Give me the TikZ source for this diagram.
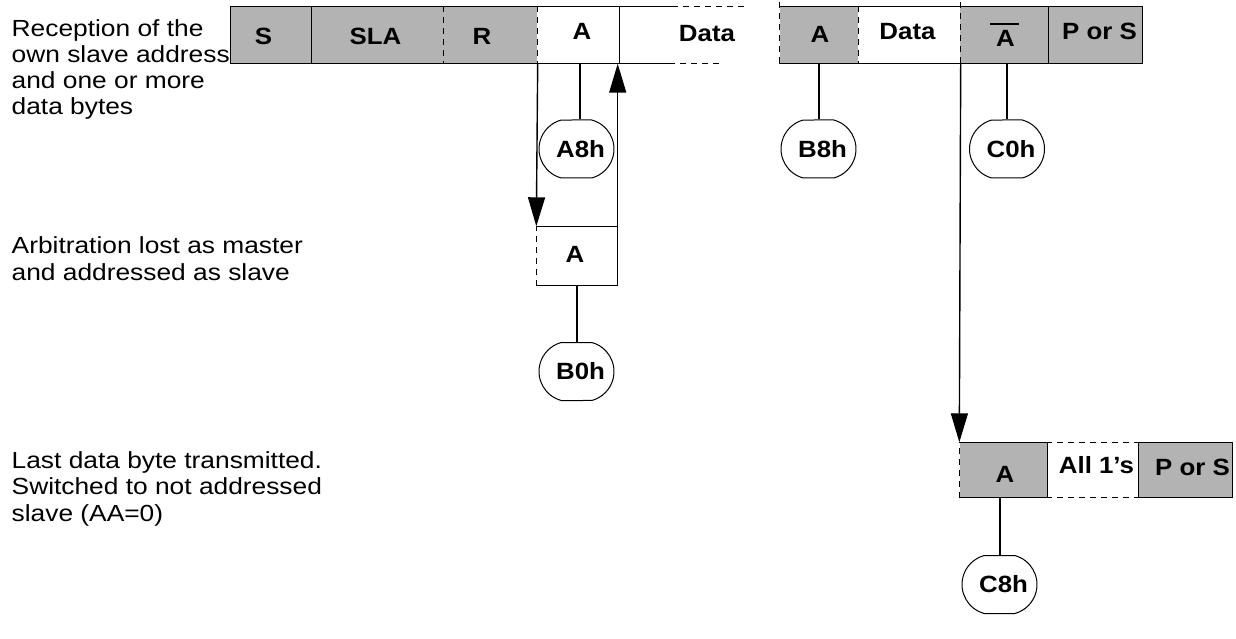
\documentclass[tikz,border=0pt]{standalone}
\usepackage{fontspec}
\setmainfont{Liberation Sans}[FakeStretch=1.1]
\newfontfamily\descfont{Liberation Sans}[FakeStretch=1.13]
\usetikzlibrary{arrows.meta,shapes.misc}
\definecolor{boxgrey}{RGB}{179,179,179}
\begin{document}
\begin{tikzpicture}[x=1pt,y=-1pt,line width=1.4pt,
  cell/.style={rectangle,inner sep=0pt,minimum height=56pt,draw=none},
  greycell/.style={cell,fill=boxgrey},
  txt/.style={font=\fontsize{23.5}{26}\selectfont\bfseries,inner sep=0pt,anchor=base},
  desc/.style={font=\descfont\fontsize{23.3}{26.3}\selectfont,align=left,anchor=base west,inner sep=0pt},
  code/.style={rounded rectangle,rounded rectangle arc length=150,draw,line width=1pt,
    minimum width=75pt,minimum height=58pt,inner sep=0pt,font=\fontsize{23.5}{26}\selectfont\bfseries},
  dsh/.style={dash pattern=on 6pt off 5pt},
  arr/.style={-{Triangle[length=29pt,width=17pt]}}]
\useasboundingbox (0,0) rectangle (1236,639);
% top row cells
\node[greycell,minimum width=80pt]  (bS)   at (271,35)   {};
\node[greycell,minimum width=132pt] (bSLA) at (377,35)   {};
\node[greycell,minimum width=94pt]  (bR)   at (490,35)   {};
\node[cell,minimum width=82pt]      (bA1)  at (578,35)   {};
\node[cell,minimum width=161pt]     (bD1)  at (699.5,35) {};
\node[greycell,minimum width=78pt]  (bA2)  at (819,35)   {};
\node[cell,minimum width=102pt]     (bD2)  at (909,35)   {};
\node[greycell,minimum width=88pt]  (bAn)  at (1004,35)  {};
\node[greycell,minimum width=94pt]  (bPS)  at (1095,35)  {};
% middle cell
\node[cell,minimum width=80pt,minimum height=58pt] (bA3) at (577,256) {};
% bottom row cells
\node[greycell,minimum width=87pt,minimum height=54pt] (bA4)  at (1003.5,470) {};
\node[cell,minimum width=92pt,minimum height=54pt]     (bAll) at (1093,470)   {};
\node[greycell,minimum width=93pt,minimum height=54pt] (bPS2) at (1185.5,470) {};
% top row borders
\draw (bS.south west) -- (bS.north west) -- ([xshift=54pt]bD1.north west);
\draw[dsh] ([xshift=54pt]bD1.north west) -- ([xshift=128pt]bD1.north west);
\draw (bS.south west) -- ([xshift=51pt]bD1.south west);
\draw[dsh] ([xshift=51pt]bD1.south west) -- ([xshift=103pt]bD1.south west);
\draw (bA2.north west) -- (bPS.north east) -- (bPS.south east) -- (bA2.south west);
\draw (bS.north east) -- (bS.south east);
\draw[dsh] (bSLA.north east) -- (bSLA.south east);
\draw[dsh] (bR.north east) -- (bR.south east);
\draw (bA1.north east) -- (bA1.south east);
\draw[dsh] ([yshift=4pt]bA2.north west) -- (bA2.south west);
\draw[dsh] (bA2.north east) -- (bA2.south east);
\draw[dsh] ([yshift=4pt]bD2.north east) -- (bD2.south east);
\draw (bAn.north east) -- (bAn.south east);
% middle borders
\draw (bA3.north west) -- (bA3.north east) -- (bA3.south east) -- (bA3.south west);
\draw[dsh] (bA3.south west) -- (bA3.north west);
% bottom borders
\draw[dsh] (bA4.south west) -- (bA4.north west);
\draw (bA4.north west) -- (bA4.north east) -- (bA4.south east) -- (bA4.south west);
\draw[dsh] (bAll.north west) -- (bAll.north east);
\draw[dsh] (bAll.south west) -- (bAll.south east);
\draw (bPS2.north west) rectangle (bPS2.south east);
% texts
\node[txt] (tS)   at (263.5,45) {S};
\node[txt] (tSLA) at (375.5,45) {SLA};
\node[txt] (tR)   at (482,45)   {R};
\node[txt] (tA1)  at (582,40)   {A};
\node[txt] (tD1)  at (707,42)   {Data};
\node[txt] (tA2)  at (820,43)   {A};
\node[txt] (tD2)  at (907.5,40) {Data};
\node[txt] (tAn)  at (1005.5,47){A};
\draw ([xshift=-5pt,yshift=6pt]tAn.north west) -- ([xshift=3pt,yshift=6pt]tAn.north east);
\node[txt] (tPS)  at (1099.5,40){P or S};
\node[txt] (tA3)  at (575,262)  {A};
\node[txt] (tA4)  at (1005,482) {A};
\node[txt] (tAll) at (1096.5,473){All 1’s};
\node[txt] (tPS2) at (1192.5,475){P or S};
% codes
\node[code] (A8h) at (576.5,149) {\hspace*{8pt}A8h};
\node[code] (B8h) at (818.5,149) {\hspace*{8pt}B8h};
\node[code] (C0h) at (1007,149)  {\hspace*{8pt}C0h};
\node[code] (B0h) at (576.5,371.5) {\hspace*{8pt}B0h};
\node[code] (C8h) at (999.5,584.5) {\hspace*{8pt}C8h};
\coordinate (t1) at (580,63);
\coordinate (t2) at (819,63);
\coordinate (t3) at (1007,63);
\coordinate (t4) at (1000,497);
\draw (t1) -- (t1 |- A8h.north);
\draw (t2) -- (t2 |- B8h.north);
\draw (t3) -- (t3 |- C0h.north);
\draw (bA3.south) -- (bA3.south |- B0h.north);
\draw (t4) -- (t4 |- C8h.north);
% arrows
\draw[arr] (bR.south east) -- (bA3.north west);
\draw[arr] (bA3.north east) -- (bA3.north east |- bA1.south);
\draw[arr] (bD2.south east) -- (bA4.north west);
% descriptions (anchored at the baseline of the last line)
\node[desc] (d1) at (11,115) {Reception of the\\own slave address\\and one or more\\data bytes};
\node[desc] (d2) at (11,280) {Arbitration lost as master\\and addressed as slave};
\node[desc] (d3) at (11,521) {Last data byte transmitted.\\Switched to not addressed\\slave (AA=0)};
\end{tikzpicture}
\end{document}
